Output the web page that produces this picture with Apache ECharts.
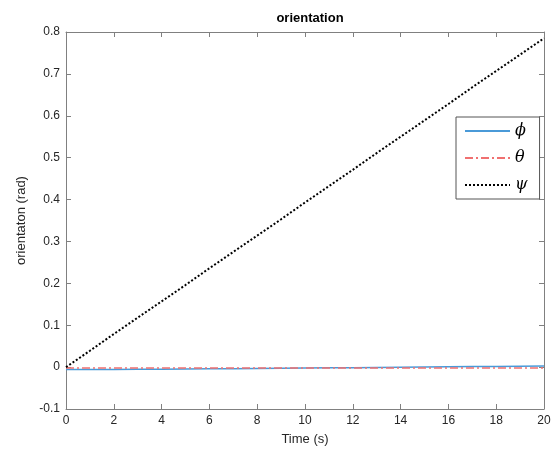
<!DOCTYPE html>
<html><head><meta charset="utf-8">
<script src="https://cdn.jsdelivr.net/npm/echarts@6/dist/echarts.min.js"></script>
<style>html,body{margin:0;padding:0;background:#fff}#c{width:555px;height:453px}</style>
</head><body><div id="c"></div>
<script>
const time = [0,1,2,3,4,5,6,7,8,9,10,11,12,13,14,15,16,17,18,19,20];
const phi = [-0.006,-0.0058,-0.0055,-0.0052,-0.0049,-0.0045,-0.0041,-0.0037,-0.0033,-0.0028,-0.0023,-0.0018,-0.0013,-0.0008,-0.0003,0.0002,0.0007,0.0012,0.0017,0.0022,0.0027];
const theta = [-0.002,-0.002,-0.002,-0.002,-0.002,-0.002,-0.002,-0.002,-0.002,-0.002,-0.002,-0.002,-0.002,-0.002,-0.002,-0.002,-0.002,-0.002,-0.002,-0.002,-0.002];
const psi = [0,0.039,0.079,0.118,0.157,0.196,0.236,0.275,0.314,0.353,0.393,0.432,0.471,0.511,0.550,0.589,0.628,0.668,0.707,0.746,0.785];
const names = ['ϕ','θ','ψ'];
const xTicks = [0,2,4,6,8,10,12,14,16,18,20];
const yTicks = [-0.1,0,0.1,0.2,0.3,0.4,0.5,0.6,0.7,0.8];

const axisCol = '#808080';
const txtCol = '#262626';
const font = 'Liberation Sans, Arial, sans-serif';
const pair = a => time.map((t,i)=>[t,a[i]]);

const chart = echarts.init(document.getElementById('c'));
chart.setOption({
  animation:false,
  title:{text:'orientation', left:305, top:7, textAlign:'center',
    textStyle:{fontFamily:font, fontSize:13, fontWeight:'bold', color:'#000'}},
  grid:{left:66, right:11, top:32, bottom:44, show:false},
  legend:{
    show:true, orient:'vertical', left:456, top:117, itemWidth:45, itemHeight:10, itemGap:11,
    padding:[6,12,6,8], borderColor:'#555', borderWidth:1, backgroundColor:'#fff',
    itemStyle:{opacity:0},
    textStyle:{fontFamily:'DejaVu Serif, serif', fontStyle:'italic', fontSize:16, color:'#000'},
    data:names
  },
  xAxis:[{
    type:'value', min:xTicks[0], max:xTicks[xTicks.length-1], interval:2,
    name:'Time (s)', nameLocation:'middle', nameGap:24,
    nameTextStyle:{fontFamily:font, fontSize:13, color:txtCol},
    axisLine:{show:true, onZero:false, lineStyle:{color:axisCol}},
    axisTick:{inside:true, length:5, lineStyle:{color:axisCol}},
    axisLabel:{fontFamily:font, fontSize:12, color:txtCol, margin:6},
    splitLine:{show:false}
  },{
    type:'value', position:'top', min:xTicks[0], max:xTicks[xTicks.length-1], interval:2,
    axisLine:{show:true, onZero:false, lineStyle:{color:axisCol}},
    axisTick:{inside:true, length:5, lineStyle:{color:axisCol}},
    axisLabel:{show:false}, splitLine:{show:false}
  }],
  yAxis:[{
    type:'value', min:yTicks[0], max:yTicks[yTicks.length-1], interval:0.1,
    name:'orientaton (rad)', nameLocation:'middle', nameGap:38, nameRotate:90,
    nameTextStyle:{fontFamily:font, fontSize:13, color:txtCol},
    axisLine:{show:true, onZero:false, lineStyle:{color:axisCol}},
    axisTick:{inside:true, length:5, lineStyle:{color:axisCol}},
    axisLabel:{fontFamily:font, fontSize:12, color:txtCol, margin:6,
      formatter:v=>{const r=Math.round(v*10)/10; return r===0?'0':String(r);}},
    splitLine:{show:false}
  },{
    type:'value', position:'right', min:yTicks[0], max:yTicks[yTicks.length-1], interval:0.1,
    axisLine:{show:true, onZero:false, lineStyle:{color:axisCol}},
    axisTick:{inside:true, length:5, lineStyle:{color:axisCol}},
    axisLabel:{show:false}, splitLine:{show:false}
  }],
  series:[
    {name:names[0], type:'line', data:pair(phi), showSymbol:false, symbol:'none',
      lineStyle:{color:'#4a9ad8', width:1.5}, itemStyle:{color:'#4a9ad8'}},
    {name:names[1], type:'line', data:pair(theta), showSymbol:false, symbol:'none',
      lineStyle:{color:'#f07070', width:1.5, type:[8,3,2,3]}, itemStyle:{color:'#f07070'}},
    {name:names[2], type:'line', data:pair(psi), showSymbol:false, symbol:'none',
      lineStyle:{color:'#000', width:2, type:[2,2]}, itemStyle:{color:'#000'}}
  ]
});
</script></body></html>
